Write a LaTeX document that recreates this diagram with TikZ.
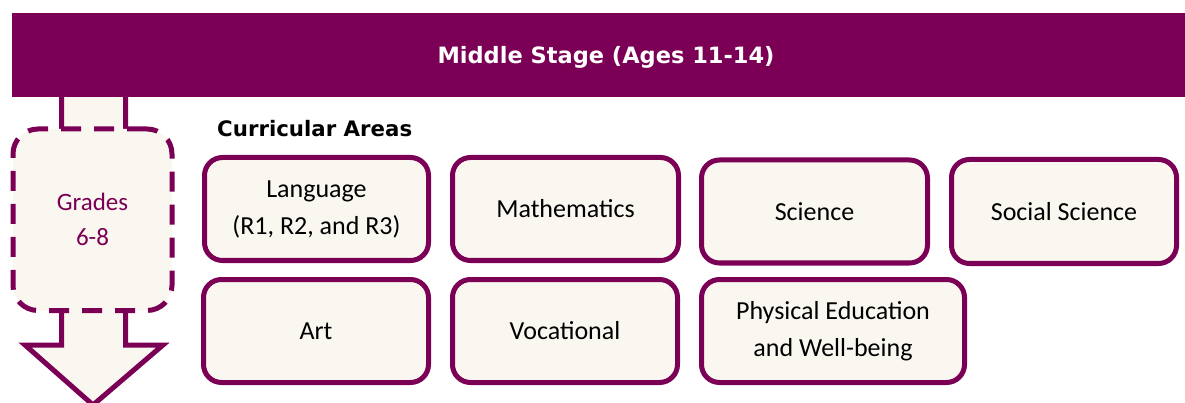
\documentclass[tikz,border=0pt]{standalone}
\usepackage{fontspec}
\setmainfont{Carlito}
\newfontfamily\headfont{DejaVu Sans}
\definecolor{stagepurple}{HTML}{7B0055}
\definecolor{cream}{HTML}{FAF7F0}
\tikzset{
  area/.style={draw=stagepurple, fill=cream, line width=5pt, rounded corners=18pt,
    minimum height=103pt, inner sep=0pt, align=center, text=black,
    font=\fontsize{26}{37}\selectfont},
  gradebox/.style={draw=stagepurple, fill=cream, line width=5pt, rounded corners=25pt,
    dash pattern=on 20pt off 13pt, inner sep=0pt, align=center, text=stagepurple,
    font=\fontsize{25}{35}\selectfont},
  flowarrow/.style={draw=stagepurple, fill=cream, line width=5pt, line join=miter},
  banner/.style={fill=stagepurple, inner sep=0pt},
  titletext/.style={text=white, inner sep=0pt, font=\headfont\bfseries\fontsize{22.5}{27}\selectfont},
  headtext/.style={text=black, inner sep=0pt, font=\headfont\bfseries\fontsize{21.3}{26}\selectfont}
}
\begin{document}
\begin{tikzpicture}[x=1pt,y=-1pt]
\useasboundingbox (0,0) rectangle (1185,403);
% arrow behind the grade box
\coordinate (shaftL) at (61.5,97);
\coordinate (shaftR) at (125.5,97);
\draw[flowarrow] (shaftL) -- (61.5,345) -- (25,345) -- (93,405) -- (163,345) -- (125.5,345) -- (shaftR);
% grade box
\node[gradebox, minimum width=159pt, minimum height=181.5pt] (grades) at (92.5,219.75) {Grades\\6-8};
% banner
\node[banner, minimum width=1173pt, minimum height=84pt] (bar) at (598.5,55) {};
\node[titletext, anchor=base] (title) at (606,64) {Middle Stage (Ages 11-14)};
% heading
\node[headtext, anchor=base west] (areas) at (217,137) {Curricular Areas};
% row 1
\node[area, minimum width=224pt] (lang) at (316.5,209) {Language\\(R1, R2, and R3)};
\node[area, minimum width=226pt] (math) at (565.5,209) {Mathematics};
\node[area, minimum width=226pt] (sci) at (814.5,211.5) {Science};
\node[area, minimum width=225pt, minimum height=104pt] (soc) at (1064,211.5) {Social Science};
% row 2
\node[area, minimum width=225pt] (art) at (316,331) {Art};
\node[area, minimum width=225pt] (voc) at (565,331) {Vocational};
\node[area, minimum width=263pt] (pe) at (833,331) {Physical Education\\and Well-being};
\end{tikzpicture}
\end{document}
